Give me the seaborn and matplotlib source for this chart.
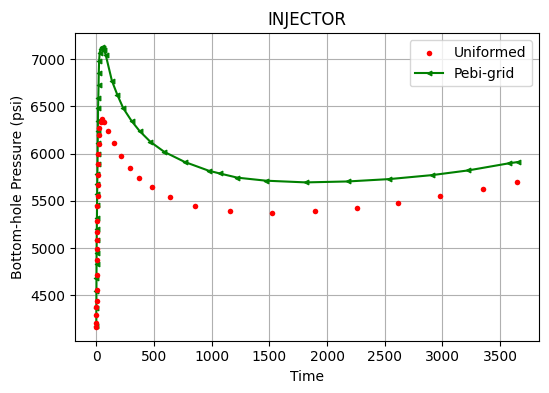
import matplotlib
matplotlib.use('Agg')
import matplotlib.pyplot as plt
import seaborn as sns
import pandas as pd

# Uniformed grid (red dots)
uni_time = [0.5, 1, 1.5, 2, 2.5, 3, 4, 5, 6, 7, 8, 9, 10, 11, 12, 14, 16, 18, 20, 24, 28,
            37, 50, 65, 102, 151, 213, 292, 371, 482, 643, 860, 1161, 1523, 1894, 2256,
            2618, 2980, 3351, 3644]
uni_bhp = [4166, 4201, 4289, 4377, 4440, 4553, 4711, 4877, 4989, 5080, 5165, 5288, 5446,
           5548, 5671, 5773, 5889, 5995, 6100, 6195, 6269,
           6335, 6365, 6335, 6240, 6117, 5971, 5848, 5743, 5648, 5542, 5447, 5394, 5372,
           5394, 5426, 5479, 5553, 5628, 5702]

# Pebi grid (green line)
pebi_time = [0.5, 1, 1.5, 2, 2.5, 3, 4, 5, 6, 7, 8, 9, 10, 11, 12, 13, 14, 15, 16, 18, 20,
             22, 25, 30, 38, 48, 58, 68, 82, 136, 183, 234, 306, 375, 470, 590, 766, 974,
             1069, 1224, 1472, 1816, 2181, 2540, 2909, 3224, 3575, 3655]
pebi_bhp = [4175, 4369, 4546, 4686, 4828, 4951, 5083, 5199, 5322, 5457, 5570, 5676, 5782,
            5888, 6000, 6117, 6240, 6346, 6487, 6593, 6725, 6858, 6982,
            7070, 7110, 7125, 7122, 7095, 7046, 6770, 6622, 6481, 6346, 6240, 6124, 6018,
            5912, 5819, 5790, 5745, 5713, 5695, 5705, 5730, 5772, 5822, 5897, 5911]

uni = pd.DataFrame({'Time': uni_time, 'BHP': uni_bhp})
pebi = pd.DataFrame({'Time': pebi_time, 'BHP': pebi_bhp})

fig, ax = plt.subplots(figsize=(5.49, 3.93), dpi=100)
fig.subplots_adjust(left=0.137, right=0.982, top=0.915, bottom=0.133)

sns.scatterplot(x='Time', y='BHP', data=uni, ax=ax, color='red', s=16,
                linewidth=0, label='Uniformed', zorder=3)
sns.lineplot(x='Time', y='BHP', data=pebi, ax=ax, color='green', marker='<',
             markersize=3.5, markeredgecolor='green', sort=False, estimator=None,
             label='Pebi-grid', zorder=2)

ax.grid(True)
ax.set_title('INJECTOR')
ax.set_xlabel('Time')
ax.set_ylabel('Bottom-hole Pressure (psi)')
ax.legend(loc='upper right')
plt.savefig('out.png', dpi=100)
